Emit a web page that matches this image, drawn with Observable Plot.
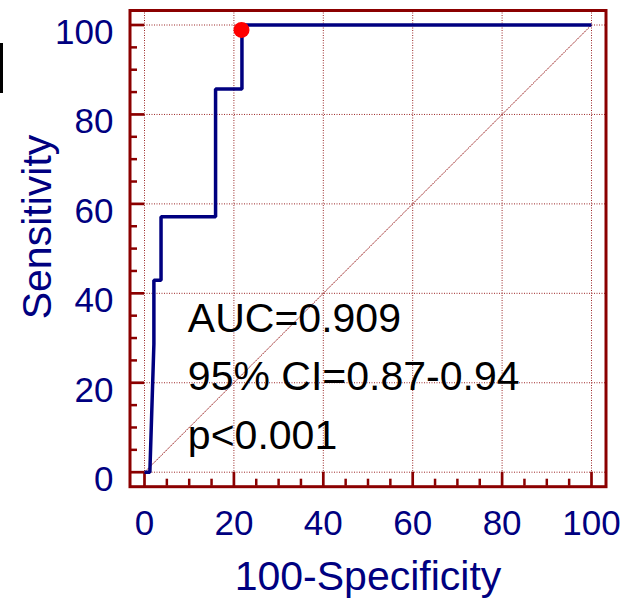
<!DOCTYPE html>
<html><head><meta charset="utf-8">
<script src="https://cdn.jsdelivr.net/npm/d3@7"></script>
<script src="https://cdn.jsdelivr.net/npm/@observablehq/plot@0.6"></script>
<style>
body{margin:0;background:#fff;}
#wrap{position:relative;width:622px;height:598px;overflow:hidden;}
#bar{position:absolute;left:0;top:43px;width:3px;height:50px;background:#000;}
</style></head><body><div id="wrap"><div id="bar"></div></div>
<script>
// ROC curve points (100-Specificity, Sensitivity)
const rocX = [0, 1.2, 2.1, 2.1, 3.7, 3.7, 15.9, 15.9, 21.8, 21.8, 100];
const rocY = [0, 0, 28.6, 42.9, 42.9, 57.1, 57.1, 85.7, 85.7, 100, 100];
// optimal cut-off point
const cutX = [21.7];
const cutY = [98.9];
// reference diagonal
const diagX = [0, 100];
const diagY = [0, 100];
// ticks
const xTicks = [0, 20, 40, 60, 80, 100];
const yTicks = [0, 20, 40, 60, 80, 100];
const minorTicks = [5, 10, 15, 25, 30, 35, 45, 50, 55, 65, 70, 75, 85, 90, 95];
// annotation
const annotLines = ["AUC=0.909", "95% CI=0.87-0.94", "p<0.001"];
const annotX = [9.7, 9.7, 9.7];
const annotY = [31.3, 18.3, 5.2];
const xTitle = "100-Specificity";
const yTitle = "Sensitivity";

const navy = "#000080", dred = "#8b0000";
const roc = rocX.map((x, i) => ({x, y: rocY[i]}));
const diag = diagX.map((x, i) => ({x, y: diagY[i]}));
const cut = cutX.map((x, i) => ({x, y: cutY[i]}));
const annot = annotLines.map((t, i) => ({t, x: annotX[i], y: annotY[i]}));
const none = () => "";

const chart = Plot.plot({
  width: 622, height: 598,
  marginLeft: 144, marginRight: 31, marginTop: 24.5, marginBottom: 126.3,
  x: {domain: [0, 100]}, y: {domain: [0, 100]},
  style: {fontFamily: "'Liberation Sans', Arial, sans-serif", background: "transparent", overflow: "visible"},
  marks: [
    Plot.ruleX(xTicks, {x: d => d, stroke: dred, strokeWidth: 1, strokeDasharray: "1,1.5", strokeOpacity: 0.85, insetTop: -14.5}),
    Plot.ruleY(yTicks, {y: d => d, stroke: dred, strokeWidth: 1, strokeDasharray: "1,1.5", strokeOpacity: 0.85, insetRight: -15}),
    Plot.line(diag, {x: "x", y: "y", stroke: dred, strokeWidth: 1, strokeDasharray: "1,1.5", strokeOpacity: 0.85}),
    Plot.frame({stroke: dred, strokeWidth: 3, inset: -14.5}),
    Plot.axisX(xTicks, {tickSize: 15, tickFormat: none, stroke: dred, strokeWidth: 2.7, label: null}),
    Plot.axisX(minorTicks, {tickSize: 7, dy: 7, tickFormat: none, stroke: dred, strokeWidth: 2.5, label: null}),
    Plot.axisY(yTicks, {tickSize: 15, tickFormat: none, stroke: dred, strokeWidth: 2.7, label: null}),
    Plot.axisY(minorTicks, {tickSize: 7, dx: -7, tickFormat: none, stroke: dred, strokeWidth: 2.5, label: null}),
    Plot.axisX(xTicks, {tickSize: 0, tickPadding: 38, fill: navy, fontSize: 35, label: null}),
    Plot.axisY(yTicks, {tickSize: 0, tickPadding: 31, dy: 7.8, fill: navy, fontSize: 35, label: null}),
    Plot.line(roc, {x: "x", y: "y", stroke: navy, strokeWidth: 3.5, strokeLinejoin: "miter", strokeLinecap: "butt"}),
    Plot.dot(cut, {x: "x", y: "y", r: 8, fill: "#ff0000", stroke: "none"}),
    Plot.text(annot, {x: "x", y: "y", text: "t", textAnchor: "start", lineAnchor: "bottom", fontSize: 41, fill: "#000"}),
    Plot.text([xTitle], {frameAnchor: "bottom", text: d => d, textAnchor: "middle", lineAnchor: "bottom", dy: 117.5, fontSize: 41, fill: navy}),
    Plot.text([yTitle], {frameAnchor: "left", text: d => d, rotate: -90, textAnchor: "middle", lineAnchor: "middle", dx: -107, dy: -21.6, fontSize: 41, fill: navy})
  ]
});
document.getElementById("wrap").appendChild(chart);
chart.style.position = "absolute";
chart.style.left = "0";
chart.style.top = "0";
</script>
</body></html>
